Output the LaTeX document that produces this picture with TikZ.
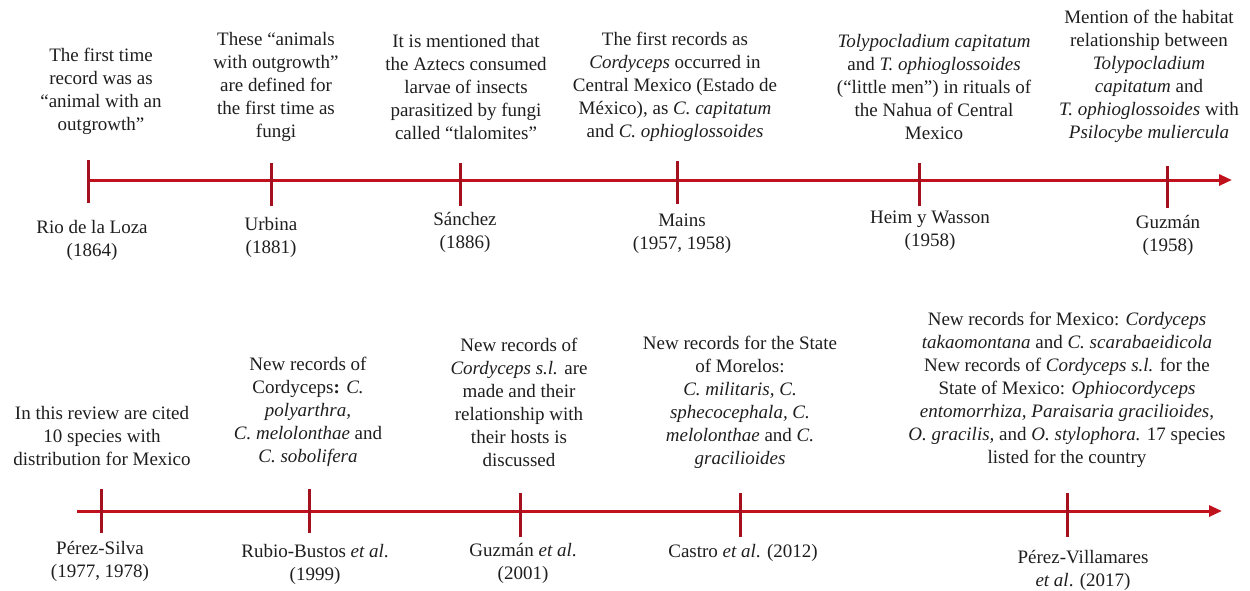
\documentclass[tikz,border=0pt]{standalone}
\usepackage{fontspec}
\setmainfont{Liberation Serif}
\usetikzlibrary{arrows.meta}
\definecolor{lineRed}{RGB}{192,18,28}
\definecolor{tickRed}{RGB}{165,16,30}
\definecolor{txtCol}{RGB}{30,30,30}
\begin{document}
\begin{tikzpicture}[x=1pt,y=-1pt,
  tl/.style={draw=lineRed,line width=3pt,-{Triangle[length=13pt,width=11pt]}},
  tk/.style={draw=tickRed,line width=3pt},
  txt/.style={align=center,inner sep=0pt,text=txtCol,yshift=-2.5pt,font=\fontsize{19}{23}\selectfont},
  lab/.style={txt}]
\useasboundingbox (0,0) rectangle (1250,590);
% ---------- timeline 1 ----------
\coordinate (s1) at (88,180);
\coordinate (e1) at (1232,180);
\draw[tl] (s1) -- (e1);
\foreach \n/\x/\ya/\yb in {a/88/160/203, b/271/163/206, c/460/163/206, d/677/161/204, e/919/163/206, f/1167/166/208}{
  \coordinate (T1\n a) at (\x,\ya);
  \coordinate (T1\n b) at (\x,\yb);
  \draw[tk] (T1\n a) -- (T1\n b);
}
\node[txt] (d1) at (101,89) {The first time\\record was as\\“animal with an\\outgrowth”};
\node[txt] (d2) at (276,84) {These “animals\\with outgrowth”\\are defined for\\the first time as\\fungi};
\node[txt] (d3) at (466,84) {It is mentioned that\\the Aztecs consumed\\larvae of insects\\parasitized by fungi\\called “tlalomites”};
\node[txt] (d4) at (675,84) {The first records as\\\textit{Cordyceps} occurred in\\Central Mexico (Estado de\\México), as \textit{C. capitatum}\\and \textit{C. ophioglossoides}};
\node[txt] (d5) at (934,84.5) {\textit{Tolypocladium capitatum}\\and \textit{T. ophioglossoides}\\(“little men”) in rituals of\\the Nahua of Central\\Mexico};
\node[txt] (d6) at (1149,73.5) {Mention of the habitat\\relationship between\\\textit{Tolypocladium}\\\textit{capitatum} and\\\textit{T. ophioglossoides} with\\\textit{Psilocybe muliercula}};
\node[lab] (l1) at (92,238) {Rio de la Loza\\(1864)};
\node[lab] (l2) at (271,234.5) {Urbina\\(1881)};
\node[lab] (l3) at (465,229.5) {Sánchez\\(1886)};
\node[lab] (l4) at (682,231.5) {Mains\\(1957, 1958)};
\node[lab] (l5) at (930,228.5) {Heim y Wasson\\(1958)};
\node[lab] (l6) at (1168,232.5) {Guzmán\\(1958)};
% ---------- timeline 2 ----------
\coordinate (s2) at (77,511);
\coordinate (e2) at (1222,511);
\draw[tl] (s2) -- (e2);
\foreach \n/\x/\ya/\yb in {a/101/489/533, b/309/489/533, c/520/493/537, d/740/493/537, e/1067/493/537}{
  \coordinate (T2\n a) at (\x,\ya);
  \coordinate (T2\n b) at (\x,\yb);
  \draw[tk] (T2\n a) -- (T2\n b);
}
\node[txt] (d7) at (102,433.5) {In this review are cited\\10 species with\\distribution for Mexico};
\node[txt] (d8) at (308,409) {New records of\\Cordyceps\textbf{:} \textit{C.}\\\textit{polyarthra,}\\\textit{C. melolonthae} and\\\textit{C. sobolifera}};
\node[txt] (d9) at (519,399.5) {New records of\\\textit{Cordyceps s.l.} are\\made and their\\relationship with\\their hosts is\\discussed};
\node[txt] (d10) at (740,399.5) {New records for the State\\of Morelos:\\\textit{C. militaris, C.}\\\textit{sphecocephala, C.}\\\textit{melolonthae} and \textit{C.}\\\textit{gracilioides}};
\node[txt] (d11) at (1067,387.5) {New records for Mexico: \textit{Cordyceps}\\\textit{takaomontana} and \textit{C. scarabaeidicola}\\New records of \textit{Cordyceps s.l.} for the\\State of Mexico: \textit{Ophiocordyceps}\\\textit{entomorrhiza, Paraisaria gracilioides,}\\\textit{O. gracilis,} and \textit{O. stylophora.} 17 species\\listed for the country};
\node[lab] (l7) at (100,559) {Pérez-Silva\\(1977, 1978)};
\node[lab] (l8) at (315,561.5) {Rubio-Bustos \textit{et al}.\\(1999)};
\node[lab] (l9) at (523,561) {Guzmán \textit{et al}.\\(2001)};
\node[lab] (l10) at (743,550) {Castro \textit{et al}. (2012)};
\node[lab] (l11) at (1083,568) {Pérez-Villamares\\\textit{et al}. (2017)};
\end{tikzpicture}
\end{document}
